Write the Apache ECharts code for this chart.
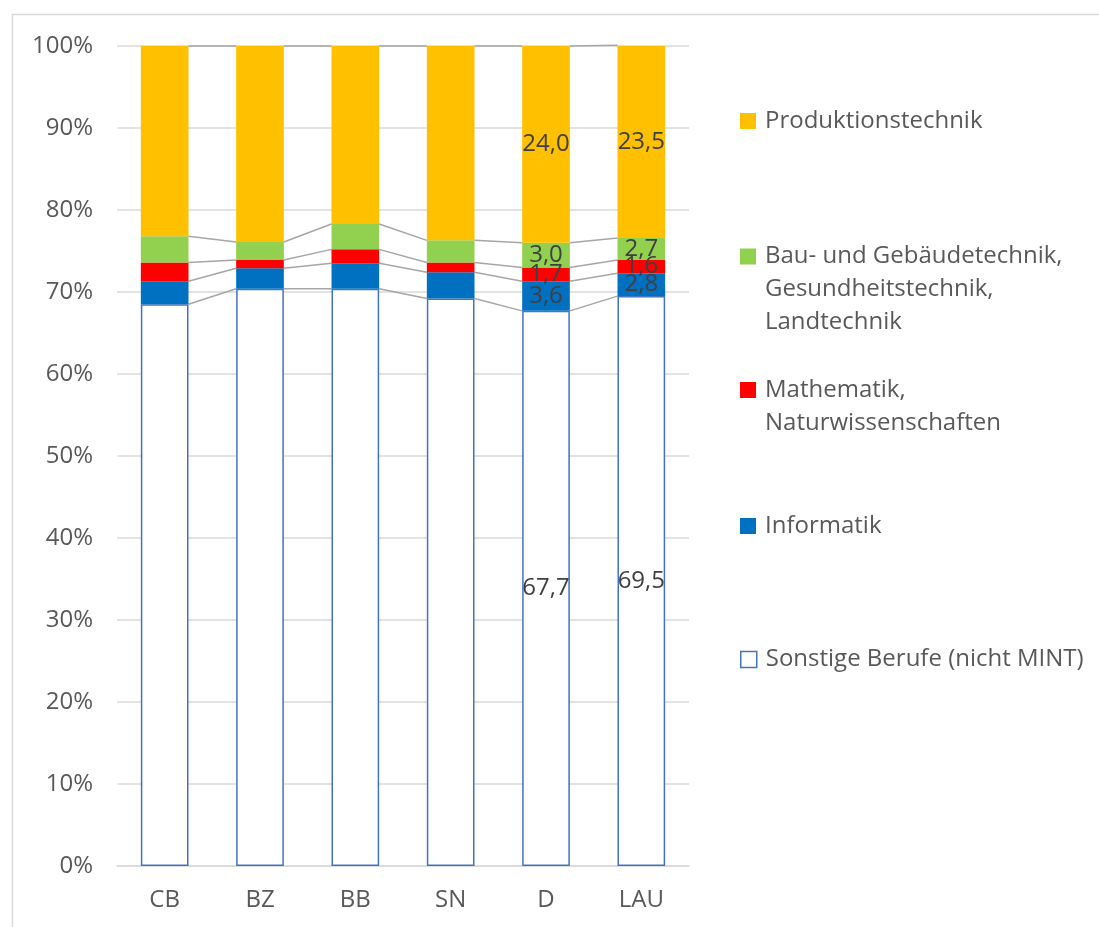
<!DOCTYPE html>
<html><head><meta charset="utf-8">
<script src="https://cdn.jsdelivr.net/npm/echarts@6/dist/echarts.min.js"></script>
<style>html,body{margin:0;padding:0;background:#fff}#c{width:1099px;height:927px}</style>
</head><body><div id="c"></div>
<script>
// ---- data ----
const categories = ['CB', 'BZ', 'BB', 'SN', 'D', 'LAU'];
const sonstige   = [68.5, 70.4, 70.4, 69.2, 67.7, 69.5];
const informatik = [2.8, 2.5, 3.1, 3.2, 3.6, 2.8];
const mathematik = [2.3, 1.0, 1.7, 1.2, 1.7, 1.6];
const bau        = [3.2, 2.2, 3.1, 2.7, 3.0, 2.7];
const produktion = [23.2, 23.9, 21.7, 23.7, 24.0, 23.5];
const labelledCategories = ['D', 'LAU'];
const seriesNames = ['Sonstige Berufe (nicht MINT)', 'Informatik', 'Mathematik, Naturwissenschaften',
  'Bau- und Gebäudetechnik, Gesundheitstechnik, Landtechnik', 'Produktionstechnik'];
const legendLines = {
  'Produktionstechnik': ['Produktionstechnik'],
  'Bau- und Gebäudetechnik, Gesundheitstechnik, Landtechnik': ['Bau- und Gebäudetechnik,', 'Gesundheitstechnik,', 'Landtechnik'],
  'Mathematik, Naturwissenschaften': ['Mathematik,', 'Naturwissenschaften'],
  'Informatik': ['Informatik'],
  'Sonstige Berufe (nicht MINT)': ['Sonstige Berufe (nicht MINT)']
};

const FONT = 'Open Sans';
const FS = 24;
const TXT = '#595959';

const stackValues = [sonstige, informatik, mathematik, bau, produktion];
const styles = [
  {color: '#ffffff', borderColor: '#4472C4', borderWidth: 1.5},
  {color: '#0070C0'},
  {color: '#FF0000'},
  {color: '#92D050'},
  {color: '#FFC000'}
];

const fmt = p => Number(p.value).toFixed(1).replace('.', ',');

const barSeries = stackValues.map((vals, k) => ({
  name: seriesNames[k],
  type: 'bar',
  stack: 'total',
  barWidth: '50%',
  itemStyle: styles[k],
  label: {show: false, position: 'inside', formatter: fmt, color: '#404040', fontFamily: FONT, fontSize: FS},
  data: vals.map((v, i) => ({value: v, label: {show: labelledCategories.includes(categories[i])}})),
  z: 3
}));

// series lines between bars (cumulative tops)
const lineData = [];
for (let level = 0; level < stackValues.length; level++) {
  for (let i = 0; i < categories.length - 1; i++) {
    let a = 0, b = 0;
    for (let k = 0; k <= level; k++) { a += stackValues[k][i]; b += stackValues[k][i + 1]; }
    lineData.push([i, a, b]);
  }
}
const seriesLines = {
  type: 'custom',
  silent: true,
  z: 2,
  encode: {x: 0, y: 1},
  data: lineData,
  renderItem: (params, api) => {
    const i = api.value(0);
    const p1 = api.coord([i, api.value(1)]);
    const p2 = api.coord([i + 1, api.value(2)]);
    const hw = api.size([1, 0])[0] * 0.25;
    return {type: 'line', shape: {x1: p1[0] + hw, y1: p1[1], x2: p2[0] - hw, y2: p2[1]},
      style: {stroke: '#a6a6a6', lineWidth: 1.5}};
  }
};

const LH = 33;
function legendFor(name, iconCenterY, k) {
  const lines = legendLines[name];
  const pad = [];
  for (let j = 1; j < lines.length; j++) pad.push(' ');
  const all = pad.concat(lines);
  const boxH = all.length * LH;
  return {
    data: [name],
    left: 740,
    top: iconCenterY - boxH / 2,
    orient: 'vertical',
    icon: 'rect',
    itemWidth: 16, itemHeight: 16,
    padding: 0,
    selectedMode: false,
    formatter: () => all.map(l => '{t|' + l + '}').join('\n'),
    itemStyle: Object.assign({borderWidth: 0}, styles[k]),
    textStyle: {fontFamily: FONT, fontSize: FS, color: TXT, lineHeight: LH,
      rich: {t: {fontFamily: FONT, fontSize: FS, color: TXT, lineHeight: LH, padding: [0, 0, 0, 4]}}}
  };
}

const option = {
  backgroundColor: '#ffffff',
  animation: false,
  graphic: [{type: 'rect', left: 10, top: 12, shape: {width: 1200, height: 1000},
    style: {fill: 'none', stroke: '#d9d9d9', lineWidth: 1.5}, silent: true}],
  grid: {left: 117, right: 410, top: 46, bottom: 61, containLabel: false},
  legend: [
    legendFor(seriesNames[4], 121, 4),
    legendFor(seriesNames[3], 256.5, 3),
    legendFor(seriesNames[2], 390, 2),
    legendFor(seriesNames[1], 526, 1),
    legendFor(seriesNames[0], 659.5, 0)
  ],
  xAxis: {
    type: 'category',
    data: categories,
    axisLine: {lineStyle: {color: '#d9d9d9', width: 1.5}},
    axisTick: {show: false},
    axisLabel: {fontFamily: FONT, fontSize: FS, color: TXT, margin: 22}
  },
  yAxis: {
    type: 'value',
    min: 0, max: 100, interval: 10,
    axisLine: {show: false},
    axisTick: {show: false},
    splitLine: {lineStyle: {color: '#d9d9d9', width: 1.5}},
    axisLabel: {fontFamily: FONT, fontSize: FS, color: TXT, margin: 24, formatter: '{value}%'}
  },
  series: [...barSeries, seriesLines]
};

const chart = echarts.init(document.getElementById('c'), null, {renderer: 'canvas'});
chart.setOption(option);
</script>
</body></html>
